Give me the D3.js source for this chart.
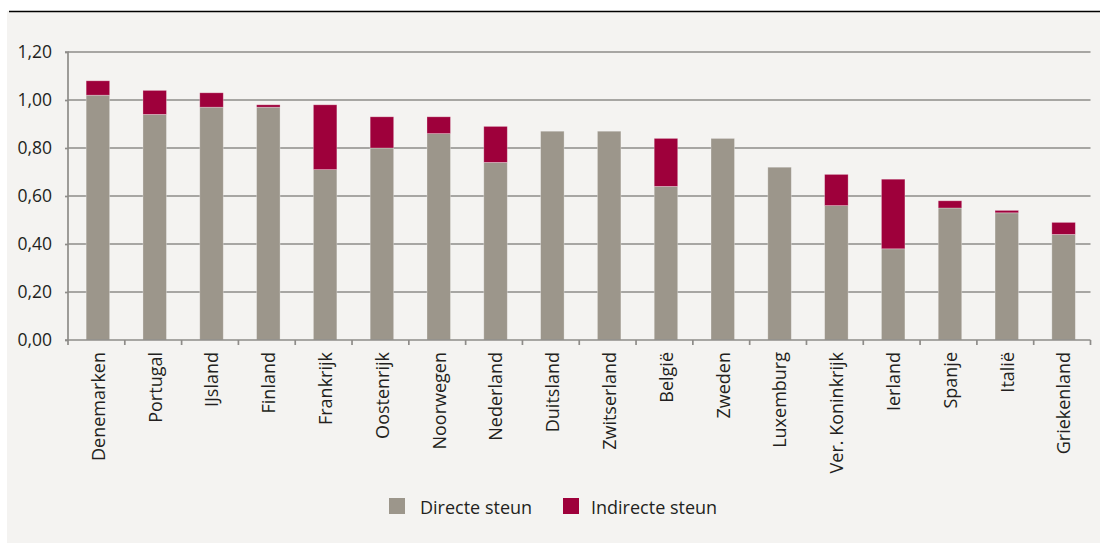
<!DOCTYPE html>
<html>
<head>
<meta charset="utf-8">
<script src="https://cdn.jsdelivr.net/npm/d3@7"></script>
<style>
  html, body { margin: 0; padding: 0; background: #ffffff; }
  svg { display: block; }
  text { font-family: "Open Sans", "Noto Sans", sans-serif; fill: #231f20; font-variant-ligatures: none; font-feature-settings: "liga" 0, "dlig" 0, "clig" 0; }
</style>
</head>
<body>
<svg id="chart" width="1100" height="543"></svg>
<script>
const categories = ["Denemarken","Portugal","IJsland","Finland","Frankrijk","Oostenrijk","Noorwegen","Nederland","Duitsland","Zwitserland","België","Zweden","Luxemburg","Ver. Koninkrijk","Ierland","Spanje","Italië","Griekenland"];
const directeSteun   = [1.02, 0.94, 0.97, 0.97, 0.71, 0.80, 0.86, 0.74, 0.87, 0.87, 0.64, 0.84, 0.72, 0.56, 0.38, 0.55, 0.53, 0.44];
const indirecteSteun = [0.06, 0.10, 0.06, 0.01, 0.27, 0.13, 0.07, 0.15, 0.00, 0.00, 0.20, 0.00, 0.00, 0.13, 0.29, 0.03, 0.01, 0.05];
const seriesNames = ["Directe steun", "Indirecte steun"];
const yTicks = [0, 0.2, 0.4, 0.6, 0.8, 1.0, 1.2];

(function () {
const colors = ["#9c968b", "#9e003b"];
const FONT = "'Open Sans', 'Noto Sans', sans-serif";

const svg = d3.select("#chart");
svg.append("rect").attr("x", 7).attr("y", 11).attr("width", 1093).attr("height", 532).attr("fill", "#f4f3f1");
svg.append("line").attr("x1", 9).attr("x2", 1100).attr("y1", 11.5).attr("y2", 11.5)
  .attr("stroke", "#000").attr("stroke-width", 1.4);

const mLeft = 68, mRight = 1090.5, mTop = 52, mBottom = 340;
const x = d3.scaleBand().domain(categories).range([mLeft, mRight]).paddingInner(0).paddingOuter(0);
const y = d3.scaleLinear().domain([0, 1.2]).range([mBottom, mTop]);

svg.append("g").selectAll("line").data(yTicks.filter(d => d > 0)).join("line")
  .attr("x1", mLeft).attr("x2", mRight)
  .attr("y1", d => y(d)).attr("y2", d => y(d))
  .attr("stroke", "#8e8c89").attr("stroke-width", 1.7);

const rows = categories.map((c, i) => ({cat: c, d: directeSteun[i], ind: indirecteSteun[i]}));
const stacked = d3.stack().keys(["d", "ind"])(rows);

const barW = 23.5;
svg.append("g").selectAll("g").data(stacked).join("g")
  .attr("fill", (s, i) => colors[i])
  .selectAll("rect").data(s => s.filter(p => p[1] - p[0] > 0)).join("rect")
  .attr("x", p => x(p.data.cat) + x.bandwidth() / 2 - barW / 2 + 1.5)
  .attr("width", barW)
  .attr("y", p => y(p[1]))
  .attr("height", p => y(p[0]) - y(p[1]))
  .attr("stroke", "rgba(255,255,255,0.35)")
  .attr("stroke-width", 0.8);

const yAxis = d3.axisLeft(y).tickValues(yTicks).tickSize(3).tickPadding(13)
  .tickFormat(d => d3.format(".2f")(d).replace(".", ","));
const gy = svg.append("g").attr("transform", `translate(${mLeft},0)`).call(yAxis);
gy.select(".domain").attr("stroke", "#8e8c89").attr("stroke-width", 1.7).attr("d", `M-3,${mTop}H0V${mBottom}H-3`);
gy.selectAll(".tick line").attr("stroke", "#8e8c89").attr("stroke-width", 1.7);
gy.selectAll(".tick text").attr("font-size", 17.5).attr("fill", "#231f20")
  .style("font-family", FONT);

const xAxis = d3.axisBottom(x).tickSize(0).tickPadding(0);
const gx = svg.append("g").attr("transform", `translate(0,${mBottom})`).call(xAxis);
gx.select(".domain").attr("stroke", "#8e8c89").attr("stroke-width", 1.7).attr("d", `M${mLeft},0H${mRight}`);
const bounds = categories.map(c => x(c)).concat([mRight]);
gx.selectAll("line.bt").data(bounds).join("line").attr("class", "bt")
  .attr("x1", d => d).attr("x2", d => d).attr("y1", 0).attr("y2", 5)
  .attr("stroke", "#8e8c89").attr("stroke-width", 1.7);
gx.selectAll(".tick text")
  .attr("transform", "rotate(-90)")
  .attr("text-anchor", "end")
  .attr("x", -12).attr("y", 2).attr("dy", "0.35em")
  .attr("font-size", 18).attr("fill", "#231f20")
  .style("font-family", FONT);

const legend = svg.append("g");
const legendItems = [{name: seriesNames[0], color: colors[0], x: 389, tx: 420}, {name: seriesNames[1], color: colors[1], x: 563, tx: 591}];
legend.selectAll("rect").data(legendItems).join("rect")
  .attr("x", d => d.x).attr("y", 498).attr("width", 16).attr("height", 16).attr("fill", d => d.color);
legend.selectAll("text").data(legendItems).join("text")
  .attr("x", d => d.tx).attr("y", 513.5).attr("font-size", 18).text(d => d.name);
})();
</script>
</body>
</html>
